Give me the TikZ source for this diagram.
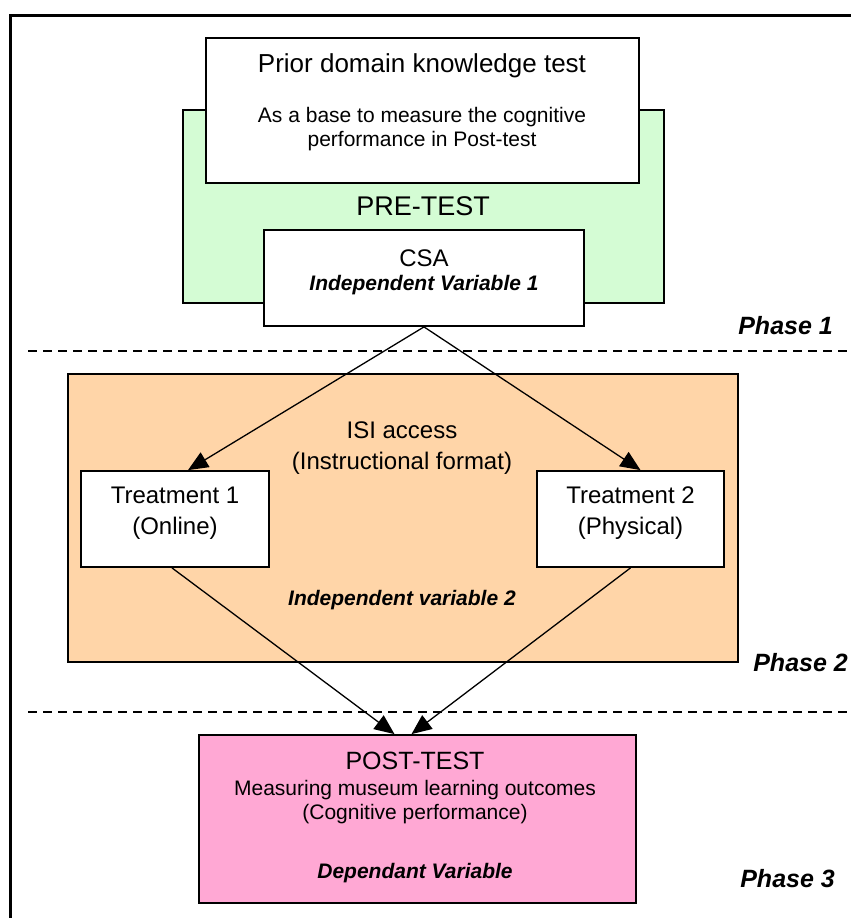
\documentclass[tikz,border=0pt]{standalone}
\usepackage{fontspec}
\setmainfont{Liberation Sans}
\usetikzlibrary{arrows.meta}
\definecolor{pregreen}{RGB}{212,252,212}
\definecolor{isiorange}{RGB}{255,213,168}
\definecolor{postpink}{RGB}{255,168,212}
\begin{document}
\begin{tikzpicture}[x=1pt,y=-1pt,
  box/.style={draw=black, line width=1.8pt, inner sep=0pt},
  lbl/.style={inner sep=0pt, align=center},
  conn/.style={line width=1.3pt, -{Triangle[length=20pt,width=17pt]}},
  sepline/.style={line width=1.6pt, dash pattern=on 9pt off 6pt},
  phase/.style={anchor=east, inner sep=0pt, font=\fontsize{25}{30}\selectfont\bfseries\itshape}]
\useasboundingbox (0,0) rectangle (851,918);
% frame
\draw[line width=3pt] (10,918) -- (10,15) -- (851,15);
% phase separators
\coordinate (s1a) at (28,351); \coordinate (s1b) at (851,351);
\coordinate (s2a) at (28,712); \coordinate (s2b) at (851,712);
\draw[sepline] (s1a) -- (s1b);
\draw[sepline] (s2a) -- (s2b);
% pre-test
\node[box, fill=pregreen, minimum width=481pt, minimum height=193pt] (pre) at (423.5,206.5) {};
\node[box, fill=white, minimum width=433pt, minimum height=145pt] (prior) at (422.5,110.5) {};
\node[lbl, font=\fontsize{26}{30}\selectfont] (priort) at (422,66) {Prior domain knowledge test};
\node[lbl, font=\fontsize{21}{24}\selectfont] (priors) at (422,129) {As a base to measure the cognitive\\performance in Post-test};
\node[lbl, font=\fontsize{27}{30}\selectfont] (pret) at (423,206) {PRE-TEST};
\node[box, fill=white, minimum width=320pt, minimum height=96pt] (csa) at (424,278) {};
\node[lbl, font=\fontsize{24}{26}\selectfont] (csat) at (424,258) {CSA};
\node[lbl, font=\fontsize{21}{24}\selectfont\bfseries\itshape] (csav) at (424,285) {Independent Variable 1};
\node[phase] (ph1) at (833,326) {Phase 1};
% ISI access
\node[box, fill=isiorange, minimum width=670pt, minimum height=288pt] (isi) at (403,518) {};
\node[lbl, font=\fontsize{24}{31}\selectfont] (isit) at (402,448) {ISI access\\(Instructional format)};
\node[box, fill=white, minimum width=188pt, minimum height=96pt] (t1) at (175,519) {};
\node[lbl, font=\fontsize{24}{31}\selectfont] (t1t) at (175,513) {Treatment 1\\(Online)};
\node[box, fill=white, minimum width=187pt, minimum height=96pt] (t2) at (630.5,519) {};
\node[lbl, font=\fontsize{24}{31}\selectfont] (t2t) at (630.5,513) {Treatment 2\\(Physical)};
\node[lbl, font=\fontsize{21}{24}\selectfont\bfseries\itshape] (isiv) at (402,600) {Independent variable 2};
\node[phase] (ph2) at (848,663) {Phase 2};
% post-test
\node[box, fill=postpink, minimum width=437pt, minimum height=168pt] (post) at (417.5,819) {};
\node[lbl, font=\fontsize{25}{28}\selectfont] (postt) at (415,761) {POST-TEST};
\node[lbl, font=\fontsize{21}{24}\selectfont] (posts) at (415,802) {Measuring museum learning outcomes\\(Cognitive performance)};
\node[lbl, font=\fontsize{21}{24}\selectfont\bfseries\itshape] (postv) at (415,873) {Dependant Variable};
\node[phase] (ph3) at (835,879) {Phase 3};
% connectors
\draw[conn] (csa.south) -- ([xshift=13pt]t1.north);
\draw[conn] (csa.south) -- ([xshift=10pt]t2.north);
\draw[conn] ([xshift=-3pt]t1.south) -- ([xshift=-23pt]post.north);
\draw[conn] (t2.south) -- ([xshift=-6pt]post.north);
\end{tikzpicture}
\end{document}
